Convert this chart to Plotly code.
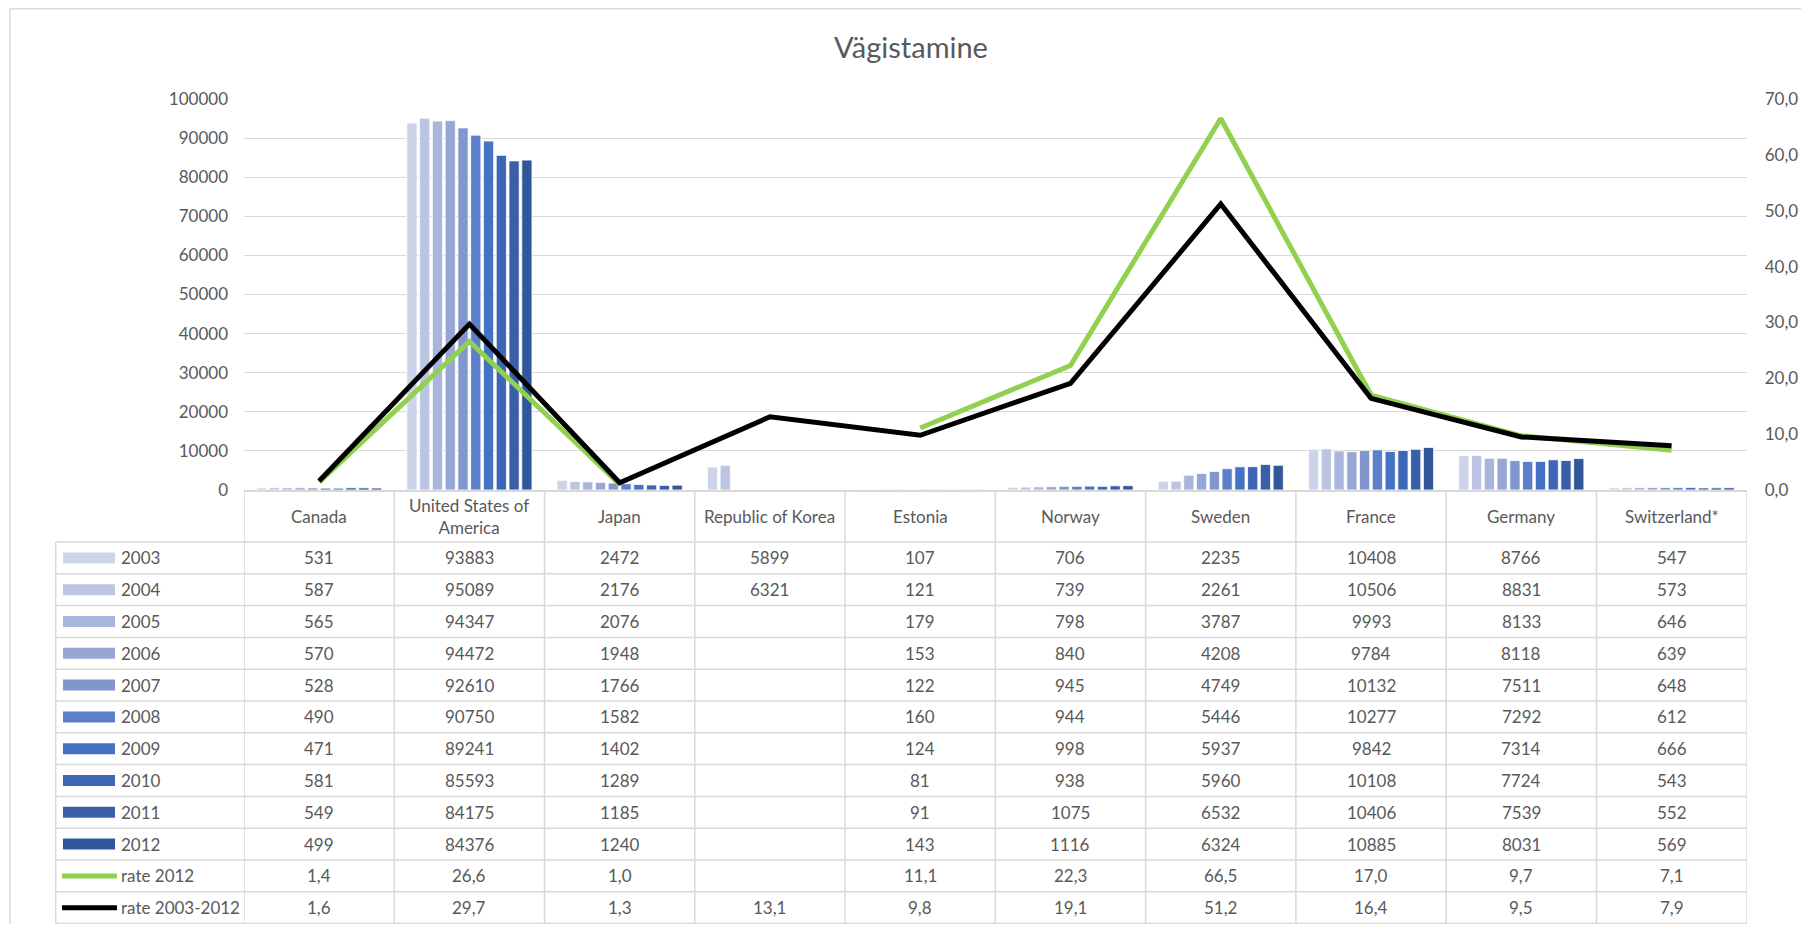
import plotly.graph_objects as go

countries = ["Canada", "United States of America", "Japan", "Republic of Korea", "Estonia",
             "Norway", "Sweden", "France", "Germany", "Switzerland*"]
country_labels = ["Canada", "United States of<br>America", "Japan", "Republic of Korea", "Estonia",
                  "Norway", "Sweden", "France", "Germany", "Switzerland*"]
years = ["2003", "2004", "2005", "2006", "2007", "2008", "2009", "2010", "2011", "2012"]

v2003 = [531, 93883, 2472, 5899, 107, 706, 2235, 10408, 8766, 547]
v2004 = [587, 95089, 2176, 6321, 121, 739, 2261, 10506, 8831, 573]
v2005 = [565, 94347, 2076, None, 179, 798, 3787, 9993, 8133, 646]
v2006 = [570, 94472, 1948, None, 153, 840, 4208, 9784, 8118, 639]
v2007 = [528, 92610, 1766, None, 122, 945, 4749, 10132, 7511, 648]
v2008 = [490, 90750, 1582, None, 160, 944, 5446, 10277, 7292, 612]
v2009 = [471, 89241, 1402, None, 124, 998, 5937, 9842, 7314, 666]
v2010 = [581, 85593, 1289, None, 81, 938, 5960, 10108, 7724, 543]
v2011 = [549, 84175, 1185, None, 91, 1075, 6532, 10406, 7539, 552]
v2012 = [499, 84376, 1240, None, 143, 1116, 6324, 10885, 8031, 569]
yearly = [v2003, v2004, v2005, v2006, v2007, v2008, v2009, v2010, v2011, v2012]

rate_2012 = [1.4, 26.6, 1.0, None, 11.1, 22.3, 66.5, 17.0, 9.7, 7.1]
rate_2003_2012 = [1.6, 29.7, 1.3, 13.1, 9.8, 19.1, 51.2, 16.4, 9.5, 7.9]

bar_colors = ["#CDD3E9", "#BBC4E2", "#A9B5DC", "#97A6D5", "#8196CD",
              "#5B7FC8", "#4472C4", "#3D66B6", "#395FA9", "#31579B"]
green = "#92D050"
black = "#000000"
grey_text = "#595959"
border = "#D9D9D9"
font = "Lato, Open Sans, sans-serif"

# page has an 8px body margin; keep the figure inside the 1809x932 window
OFF = 8
W, H = 1809 - 2 * OFF, 932 - 2 * OFF
plot_l, plot_r = 244, 1746.7
plot_t, plot_b = 99, 490
table_l = 55.7
row_top, row_h = 542, 31.8


def px(x):
    return (x - OFF) / W


def py(y):
    return 1 - (y - OFF) / H


def fmt_rate(v):
    return "" if v is None else f"{v:.1f}".replace(".", ",")


fig = go.Figure()
for yr, vals, col in zip(years, yearly, bar_colors):
    fig.add_trace(go.Bar(x=countries, y=vals, name=yr, marker_color=col,
                         marker_line_color="white", marker_line_width=0.8))

fig.add_trace(go.Scatter(x=countries, y=rate_2012, name="rate 2012", yaxis="y2", mode="lines",
                         line=dict(color=green, width=5), connectgaps=False))
fig.add_trace(go.Scatter(x=countries, y=rate_2003_2012, name="rate 2003-2012", yaxis="y2", mode="lines",
                         line=dict(color=black, width=5)))

shapes = []
annotations = []
txt = dict(size=17, color=grey_text, family=font)

# category row labels
for c, lab in zip(countries, country_labels):
    annotations.append(dict(x=c, xref="x", y=py(516.5), yref="paper", text=lab,
                            xanchor="center", yanchor="middle", showarrow=False, font=txt))

# table rows
rows = [(y, [("" if v is None else str(v)) for v in vals], "bar", col)
        for y, vals, col in zip(years, yearly, bar_colors)]
rows.append(("rate 2012", [fmt_rate(v) for v in rate_2012], "line", green))
rows.append(("rate 2003-2012", [fmt_rate(v) for v in rate_2003_2012], "line", black))

for i, (label, texts, kind, col) in enumerate(rows):
    yc = row_top + (i + 0.5) * row_h
    annotations.append(dict(x=px(119), xref="paper", y=py(yc), yref="paper", text=label,
                            xanchor="left", yanchor="middle", showarrow=False, font=txt))
    if kind == "bar":
        shapes.append(dict(type="rect", xref="paper", yref="paper", x0=px(63), x1=px(115),
                           y0=py(yc - 5.5), y1=py(yc + 5.5), fillcolor=col, line=dict(width=0)))
    else:
        shapes.append(dict(type="line", xref="paper", yref="paper", x0=px(62), x1=px(117),
                           y0=py(yc), y1=py(yc), line=dict(color=col, width=5)))
    for c, t in zip(countries, texts):
        annotations.append(dict(x=c, xref="x", y=py(yc), yref="paper", text=t, showarrow=False,
                                xanchor="center", yanchor="middle", font=txt))

# table grid
for k in range(len(rows) + 1):
    yy = py(row_top + k * row_h)
    shapes.append(dict(type="line", xref="paper", yref="paper", x0=px(table_l), x1=px(plot_r),
                       y0=yy, y1=yy, line=dict(color=border, width=1.5)))
table_bottom = py(row_top + len(rows) * row_h)
shapes.append(dict(type="line", xref="paper", yref="paper", x0=px(table_l), x1=px(table_l),
                   y0=py(row_top), y1=table_bottom, line=dict(color=border, width=1.5)))
for k in range(len(countries) + 1):
    shapes.append(dict(type="line", xref="x", yref="paper", x0=k - 0.5, x1=k - 0.5,
                       y0=py(plot_b), y1=table_bottom, line=dict(color=border, width=1.5)))

# chart area border
shapes.append(dict(type="line", xref="paper", yref="paper", x0=px(10), x1=1.0,
                   y0=py(8.8), y1=py(8.8), line=dict(color=border, width=1.5)))
shapes.append(dict(type="line", xref="paper", yref="paper", x0=px(10), x1=px(10),
                   y0=py(8.8), y1=0.0, line=dict(color=border, width=1.5)))

fig.update_layout(
    width=W, height=H,
    margin=dict(l=0, r=0, t=0, b=0, pad=0, autoexpand=False),
    paper_bgcolor="white", plot_bgcolor="white",
    separators=", ",
    showlegend=False,
    barmode="group", bargap=0.15, bargroupgap=0.2,
    font=dict(family=font, color=grey_text, size=17),
    title=dict(text="Vägistamine", x=px(911), xanchor="center", automargin=False,
               y=py(48), yanchor="middle", font=dict(size=29, color=grey_text, family=font)),
    xaxis=dict(domain=[px(plot_l), px(plot_r)], range=[-0.5, 9.5], showticklabels=False,
               showgrid=False, showline=True, linecolor=border, linewidth=1.5, zeroline=False,
               automargin=False),
    yaxis=dict(domain=[py(plot_b), py(plot_t)], range=[0, 100000], dtick=10000, tickformat="d",
               gridcolor=border, gridwidth=1.2, zeroline=False, showline=False, automargin=False,
               ticklabelstandoff=15, tickfont=dict(size=17, color=grey_text)),
    yaxis2=dict(overlaying="y", side="right", range=[0, 70], dtick=10, tickformat=".1f",
                showgrid=False, zeroline=False, showline=False, ticklabelstandoff=17,
                automargin=False, tickfont=dict(size=17, color=grey_text)),
    shapes=shapes,
    annotations=annotations,
)

fig.write_html("out.html")
